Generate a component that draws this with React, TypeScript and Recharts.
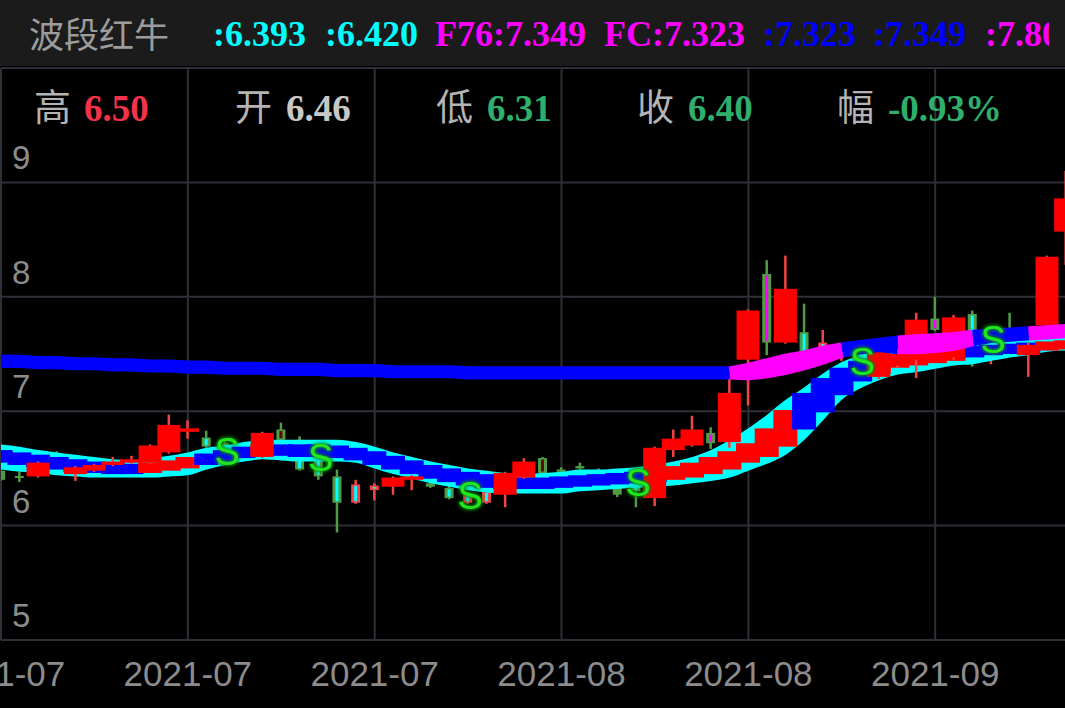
import React from "react";
import { Area, Bar, CartesianGrid, ComposedChart, Line, XAxis, YAxis } from "recharts";

// daily K-line, 58 sessions
const OPEN = [6.48, 6.43, 6.43, 6.6, 6.45, 6.48, 6.53, 6.55, 6.55, 6.64, 6.82, 6.77, 6.72, 6.66, 6.6, 6.84, 6.75, 6.59, 6.43, 6.2, 6.31, 6.34, 6.4, 6.37, 6.33, 6.2, 6.2, 6.27, 6.42, 6.59, 6.49, 6.52, 6.45, 6.34, 6.34, 6.24, 6.66, 6.7, 6.81, 6.73, 7.45, 8.2, 7.6, 7.69, 7.5, 7.48, 7.52, 7.3, 7.4, 7.45, 7.81, 7.47, 7.85, 7.45, 7.62, 7.49, 7.75, 8.57];
const HIGH = [6.49, 6.47, 6.56, 6.65, 6.52, 6.54, 6.6, 6.61, 6.71, 6.97, 6.92, 6.83, 6.75, 6.7, 6.82, 6.9, 6.78, 6.62, 6.49, 6.4, 6.37, 6.43, 6.44, 6.38, 6.35, 6.29, 6.32, 6.47, 6.59, 6.6, 6.51, 6.55, 6.5, 6.36, 6.36, 6.69, 6.84, 6.96, 6.86, 7.3, 7.89, 8.32, 8.36, 7.94, 7.71, 7.58, 7.56, 7.54, 7.52, 7.86, 8.0, 7.84, 7.88, 7.53, 7.86, 7.6, 8.36, 9.1];
const LOW = [6.39, 6.38, 6.42, 6.55, 6.39, 6.47, 6.52, 6.54, 6.54, 6.63, 6.76, 6.68, 6.62, 6.6, 6.59, 6.74, 6.48, 6.4, 5.94, 6.19, 6.22, 6.27, 6.31, 6.33, 6.23, 6.19, 6.19, 6.16, 6.41, 6.44, 6.46, 6.49, 6.35, 6.25, 6.16, 6.17, 6.6, 6.69, 6.67, 6.68, 7.05, 7.49, 7.59, 7.45, 7.45, 7.44, 7.42, 7.28, 7.38, 7.29, 7.7, 7.45, 7.39, 7.41, 7.5, 7.3, 7.74, 8.28];
const CLOSE = [6.4, 6.42, 6.55, 6.58, 6.51, 6.53, 6.56, 6.58, 6.7, 6.88, 6.85, 6.69, 6.66, 6.62, 6.81, 6.75, 6.49, 6.43, 6.2, 6.36, 6.35, 6.42, 6.43, 6.34, 6.24, 6.28, 6.3, 6.46, 6.56, 6.46, 6.47, 6.5, 6.38, 6.27, 6.3, 6.68, 6.76, 6.84, 6.72, 7.16, 7.88, 7.6, 8.07, 7.47, 7.6, 7.55, 7.45, 7.52, 7.5, 7.8, 7.71, 7.82, 7.55, 7.52, 7.55, 7.58, 8.35, 8.86];
// w = strong-bull bar, otherwise the sub-signal shown inside the k-line body
const KLINE_TAG = ["ggwcwwwwww", "wcccwdcccc", "cwwdcccwwd", "ddcgcwwwmw", "wmwccccwww", "mwccgwww"].join("").split("");

// outer band (cyan ribbon)
const RIBBON_HI = [6.71, 6.69, 6.66, 6.64, 6.62, 6.6, 6.58, 6.57, 6.59, 6.61, 6.64, 6.68, 6.7, 6.73, 6.75, 6.75, 6.75, 6.75, 6.75, 6.73, 6.69, 6.64, 6.6, 6.56, 6.53, 6.5, 6.48, 6.46, 6.45, 6.46, 6.47, 6.49, 6.49, 6.5, 6.51, 6.53, 6.56, 6.6, 6.66, 6.75, 6.85, 6.97, 7.1, 7.21, 7.33, 7.43, 7.49, 7.53, 7.54, 7.56, 7.57, 7.59, 7.6, 7.62, 7.63, 7.64, 7.65, 7.66];
const RIBBON_LO = [6.49, 6.47, 6.46, 6.44, 6.43, 6.42, 6.42, 6.42, 6.42, 6.43, 6.44, 6.49, 6.53, 6.56, 6.58, 6.57, 6.56, 6.56, 6.56, 6.55, 6.5, 6.45, 6.41, 6.37, 6.34, 6.31, 6.29, 6.28, 6.28, 6.28, 6.28, 6.3, 6.31, 6.32, 6.33, 6.34, 6.35, 6.37, 6.39, 6.42, 6.48, 6.54, 6.62, 6.75, 6.92, 7.1, 7.2, 7.27, 7.32, 7.34, 7.37, 7.4, 7.41, 7.44, 7.47, 7.49, 7.52, 7.53];

// inner band sticks
const INNER_HI = [6.66, 6.64, 6.62, 6.6, 6.58, 6.56, 6.55, 6.54, 6.55, 6.57, 6.6, 6.63, 6.66, 6.69, 6.71, 6.71, 6.71, 6.71, 6.7, 6.68, 6.65, 6.61, 6.57, 6.53, 6.5, 6.47, 6.45, 6.43, 6.42, 6.42, 6.43, 6.44, 6.45, 6.46, 6.47, 6.48, 6.52, 6.55, 6.6, 6.65, 6.72, 6.85, 7.01, 7.16, 7.29, 7.38, 7.44, 7.48, 7.5, 7.52, 7.53, 7.55, 7.57, 7.58, 7.59, 7.6, 7.61, 7.62];
const INNER_LO = [6.55, 6.53, 6.51, 6.49, 6.47, 6.46, 6.45, 6.45, 6.46, 6.48, 6.5, 6.53, 6.56, 6.59, 6.61, 6.61, 6.6, 6.6, 6.59, 6.57, 6.53, 6.49, 6.45, 6.41, 6.38, 6.35, 6.33, 6.32, 6.32, 6.32, 6.33, 6.34, 6.35, 6.36, 6.37, 6.38, 6.4, 6.42, 6.45, 6.49, 6.55, 6.6, 6.69, 6.84, 6.99, 7.14, 7.26, 7.33, 7.38, 7.4, 7.42, 7.44, 7.47, 7.49, 7.5, 7.51, 7.53, 7.54];
const INNER_TREND = ["bbbbbbbbrr", "rbbbrbbbbb", "bbbbbbbbbb", "bbbbbbrrrr", "rrrbbbbrrr", "rrbbbbrr"].join("").split("");

// long trend lines F76 / FC
const F76 = [7.44, 7.44, 7.43, 7.43, 7.42, 7.42, 7.41, 7.41, 7.4, 7.4, 7.39, 7.39, 7.38, 7.38, 7.38, 7.37, 7.37, 7.37, 7.36, 7.36, 7.36, 7.35, 7.35, 7.35, 7.35, 7.34, 7.34, 7.34, 7.34, 7.34, 7.34, 7.34, 7.34, 7.34, 7.34, 7.34, 7.34, 7.34, 7.34, 7.34, 7.37, 7.41, 7.45, 7.48, 7.52, 7.55, 7.57, 7.59, 7.61, 7.62, 7.63, 7.64, 7.66, 7.67, 7.68, 7.69, 7.7, 7.71];
const FC = [7.43, 7.43, 7.42, 7.42, 7.41, 7.41, 7.4, 7.4, 7.39, 7.39, 7.38, 7.38, 7.37, 7.37, 7.37, 7.36, 7.36, 7.36, 7.35, 7.35, 7.35, 7.34, 7.34, 7.34, 7.34, 7.33, 7.33, 7.33, 7.33, 7.33, 7.33, 7.33, 7.33, 7.33, 7.33, 7.33, 7.33, 7.33, 7.33, 7.33, 7.32, 7.34, 7.37, 7.41, 7.46, 7.52, 7.55, 7.57, 7.55, 7.55, 7.56, 7.58, 7.62, 7.65, 7.66, 7.67, 7.68, 7.69];
const MA_TREND = ["bbbbbbbbbb", "bbbbbbbbbb", "bbbbbbbbbb", "bbbbbbbbbb", "mmmmmmbbbm", "mmmbbbmm"].join("").split("");

// "S" signals
const S_BARS = [12, 17, 25, 34, 46, 53];
const S_LEVEL = [6.64, 6.59, 6.26, 6.37, 7.43, 7.62];

const X_TICKS = [0, 10, 20, 30, 40, 50];
const X_LABELS = ["2021-07", "2021-07", "2021-07", "2021-08", "2021-08", "2021-09"];
const Y_TICKS = [5, 6, 7, 8, 9, 10];

const CYAN = "#00ffff";
const MAGENTA = "#ff00ff";
const BLUE = "#0000ff";
const RED = "#ff0000";
const RED_LINE = "#f24444";
const GREEN_LINE = "#4f9c45";
const GRID = "#2f2f37";
const AXIS_TEXT = "#8c8c8c";
const INNER_FILL: Record<string, string> = { c: CYAN, m: MAGENTA, d: "#5e0808" };

const trendValue = (series: number[], trend: string[], key: string, i: number) =>
  trend[i] === key || trend[i + 1] === key ? series[i] : null;

const rows = OPEN.map((open, i) => ({
  x: i,
  open,
  high: HIGH[i],
  low: LOW[i],
  close: CLOSE[i],
  tag: KLINE_TAG[i],
  candle: [LOW[i], HIGH[i]],
  ribbon: [RIBBON_LO[i], RIBBON_HI[i]],
  inner: [INNER_LO[i], INNER_HI[i]],
  innerTrend: INNER_TREND[i],
  f76Blue: trendValue(F76, MA_TREND, "b", i),
  f76Pink: trendValue(F76, MA_TREND, "m", i),
  fcBlue: trendValue(FC, MA_TREND, "b", i),
  fcPink: trendValue(FC, MA_TREND, "m", i),
  sMark: S_BARS.includes(i) ? S_LEVEL[S_BARS.indexOf(i)] : null,
}));

function candleShape(solidLayer: boolean) {
  return (props: any) => {
    const { x, y, width, height, payload } = props;
    if (x == null || y == null || !payload) return <g />;
    const solid = payload.tag === "w";
    if (solid !== solidLayer) return <g />;
    const cx = x + width / 2;
    const top = Math.min(y, y + height);
    const bottom = Math.max(y, y + height);
    const span = payload.high - payload.low;
    const py = (v: number) => (span > 0 ? top + ((payload.high - v) / span) * (bottom - top) : top);
    let bTop = py(Math.max(payload.open, payload.close));
    let bBot = py(Math.min(payload.open, payload.close));
    if (bBot - bTop < 2) {
      const mid = (bTop + bBot) / 2;
      bTop = mid - 1;
      bBot = mid + 1;
    }
    if (solid) {
      return (
        <g>
          <rect x={cx - 1.25} y={top} width={2.5} height={bottom - top} fill={RED_LINE} />
          <rect x={cx - 11.5} y={bTop} width={23} height={bBot - bTop} fill={RED} />
        </g>
      );
    }
    const edge = payload.close >= payload.open ? RED_LINE : GREEN_LINE;
    const inner = INNER_FILL[payload.tag];
    return (
      <g>
        <rect x={cx - 1.25} y={top} width={2.5} height={bottom - top} fill={edge} />
        <rect x={cx - 4.5} y={bTop} width={9} height={bBot - bTop} fill={edge} />
        {inner && bBot - bTop > 4 ? (
          <rect x={cx - 1.5} y={bTop + 1.5} width={3} height={bBot - bTop - 3} fill={inner} />
        ) : null}
      </g>
    );
  };
}

const stairShape = (props: any) => {
  const { x, y, width, height, payload } = props;
  if (x == null || y == null || !payload) return <g />;
  const cx = x + width / 2;
  return (
    <rect
      x={cx - 12}
      y={Math.min(y, y + height)}
      width={24}
      height={Math.abs(height)}
      fill={payload.innerTrend === "r" ? RED : BLUE}
    />
  );
};

const signalDot = (props: any) => {
  const { cx, cy, index, payload } = props;
  if (cx == null || cy == null || payload?.sMark == null) return <g key={`s-${index}`} />;
  return (
    <text
      key={`s-${index}`}
      x={cx + 2}
      y={cy}
      textAnchor="middle"
      dominantBaseline="central"
      fontFamily="Liberation Sans, Arial, sans-serif"
      fontSize={38}
      fill="#1fe81f"
      style={{ filter: "drop-shadow(0 0 2px #0c9a0c) drop-shadow(0 0 1px #0a7a0a)" }}
    >
      S
    </text>
  );
};

const serif = "Liberation Serif, Times New Roman, serif";
const cjk = "Noto Sans CJK SC, sans-serif";

function Header() {
  return (
    <svg width={1065} height={140} style={{ position: "absolute", left: 0, top: 0, pointerEvents: "none" }}>
      <defs>
        <clipPath id="hdr-clip">
          <rect x={0} y={0} width={1049} height={66} />
        </clipPath>
      </defs>
      <rect x={0} y={0} width={1065} height={66} fill="#1b1b1b" />
      <text x={29} y={48} fontFamily={cjk} fontSize={35} fill="#9c9c9c">
        波段红牛
      </text>
      <g clipPath="url(#hdr-clip)" fontFamily={serif} fontWeight="bold" fontSize={36}>
        <text x={213} y={46} fill={CYAN}>:6.393</text>
        <text x={325} y={46} fill={CYAN}>:6.420</text>
        <text x={435} y={46} fill={MAGENTA}>F76:7.349</text>
        <text x={604} y={46} fill={MAGENTA}>FC:7.323</text>
        <text x={763} y={46} fill={BLUE}>:7.323</text>
        <text x={873} y={46} fill={BLUE}>:7.349</text>
        <text x={985} y={46} fill={MAGENTA}>:7.803</text>
      </g>
      <g fontSize={37}>
        <text x={34} y={121} fontFamily={cjk} fill="#b4b4b4">高</text>
        <text x={84} y={121} fontFamily={serif} fontWeight="bold" fill="#f2334a">6.50</text>
        <text x={235} y={121} fontFamily={cjk} fill="#b4b4b4">开</text>
        <text x={286} y={121} fontFamily={serif} fontWeight="bold" fill="#c8c8c8">6.46</text>
        <text x={436} y={121} fontFamily={cjk} fill="#b4b4b4">低</text>
        <text x={487} y={121} fontFamily={serif} fontWeight="bold" fill="#2fae6c">6.31</text>
        <text x={637} y={121} fontFamily={cjk} fill="#b4b4b4">收</text>
        <text x={688} y={121} fontFamily={serif} fontWeight="bold" fill="#2fae6c">6.40</text>
        <text x={837} y={121} fontFamily={cjk} fill="#b4b4b4">幅</text>
        <text x={888} y={121} fontFamily={serif} fontWeight="bold" fill="#2fae6c">-0.93%</text>
      </g>
    </svg>
  );
}

export default function App() {
  return (
    <div
      style={{
        position: "absolute",
        left: 0,
        top: 0,
        width: 1065,
        height: 708,
        background: "#000",
        overflow: "hidden",
      }}
    >
      <ComposedChart width={1066} height={708} data={rows} margin={{ top: 68, right: 0, bottom: 0, left: -1 }}>
        <CartesianGrid stroke={GRID} strokeWidth={2} />
        <XAxis
          dataKey="x"
          type="number"
          domain={[0, 57]}
          allowDataOverflow
          ticks={X_TICKS}
          interval={0}
          height={68}
          axisLine={false}
          tickLine={false}
          tickSize={0}
          tickMargin={0}
          tick={(p: any) => (
            <text
              x={p.x}
              y={p.y + 46}
              textAnchor="middle"
              fontFamily="Liberation Sans, Arial, sans-serif"
              fontSize={35}
              fill={AXIS_TEXT}
            >
              {X_LABELS[X_TICKS.indexOf(p.payload.value)]}
            </text>
          )}
        />
        <XAxis xAxisId="under" dataKey="x" type="number" domain={[0, 57]} allowDataOverflow hide />
        <XAxis xAxisId="stair" dataKey="x" type="number" domain={[0, 57]} allowDataOverflow hide />
        <XAxis xAxisId="over" dataKey="x" type="number" domain={[0, 57]} allowDataOverflow hide />
        <YAxis
          type="number"
          domain={[5, 10]}
          allowDataOverflow
          ticks={Y_TICKS}
          interval={0}
          width={2}
          axisLine={false}
          tickLine={false}
          tickSize={0}
          tickMargin={0}
          tick={(p: any) =>
            p.payload.value >= 10 ? (
              <g />
            ) : (
              <text
                x={p.x + 11}
                y={p.y - 13}
                textAnchor="start"
                fontFamily="Liberation Sans, Arial, sans-serif"
                fontSize={33}
                fill={AXIS_TEXT}
              >
                {p.payload.value}
              </text>
            )
          }
        />
        <Bar
          xAxisId="under"
          dataKey="candle"
          barSize={10}
          shape={candleShape(false)}
          isAnimationActive={false}
          zIndex={50}
        />
        <Area
          dataKey="ribbon"
          type="monotone"
          fill={CYAN}
          fillOpacity={1}
          stroke="none"
          isAnimationActive={false}
          zIndex={100}
        />
        <Bar
          xAxisId="stair"
          dataKey="inner"
          barSize={10}
          shape={stairShape}
          isAnimationActive={false}
          zIndex={300}
        />
        <Bar
          xAxisId="over"
          dataKey="candle"
          barSize={10}
          shape={candleShape(true)}
          isAnimationActive={false}
          zIndex={310}
        />
        <Line dataKey="fcBlue" stroke={BLUE} strokeWidth={12} dot={false} activeDot={false} isAnimationActive={false} zIndex={400} />
        <Line dataKey="fcPink" stroke={MAGENTA} strokeWidth={12} dot={false} activeDot={false} isAnimationActive={false} zIndex={400} />
        <Line dataKey="f76Blue" stroke={BLUE} strokeWidth={12} dot={false} activeDot={false} isAnimationActive={false} zIndex={401} />
        <Line dataKey="f76Pink" stroke={MAGENTA} strokeWidth={12} dot={false} activeDot={false} isAnimationActive={false} zIndex={401} />
        <Line dataKey="sMark" stroke="none" dot={signalDot} activeDot={false} isAnimationActive={false} zIndex={600} />
      </ComposedChart>
      <Header />
    </div>
  );
}
